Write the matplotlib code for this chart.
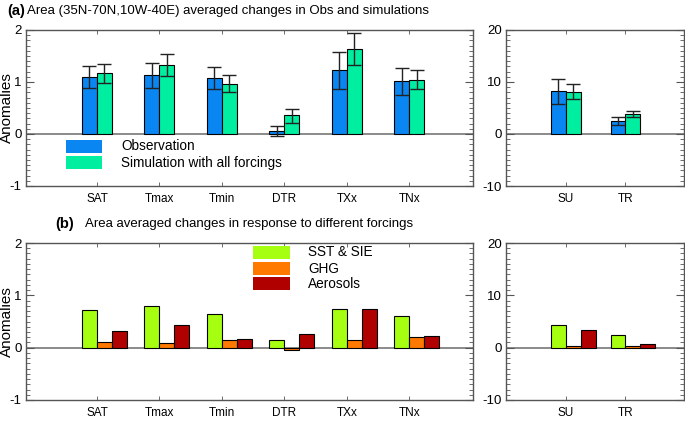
import matplotlib
matplotlib.use("Agg")
import matplotlib.pyplot as plt
from matplotlib.patches import Rectangle
from matplotlib.ticker import MultipleLocator
import numpy as np

plt.rcParams['font.family'] = ['Liberation Sans', 'DejaVu Sans']
plt.rcParams['axes.unicode_minus'] = False

# ---- data ----
cats_left = ["SAT", "Tmax", "Tmin", "DTR", "TXx", "TNx"]
cats_right = ["SU", "TR"]

obs_left = [1.10, 1.13, 1.07, 0.06, 1.23, 1.01]
obs_left_lo = [0.88, 0.88, 0.87, -0.04, 0.87, 0.75]
obs_left_hi = [1.31, 1.37, 1.28, 0.15, 1.58, 1.26]
sim_left = [1.17, 1.33, 0.97, 0.36, 1.63, 1.04]
sim_left_lo = [0.99, 1.12, 0.80, 0.22, 1.33, 0.87]
sim_left_hi = [1.35, 1.54, 1.13, 0.48, 1.95, 1.24]

obs_right = [8.27, 2.56]
obs_right_lo = [5.8, 1.7]
obs_right_hi = [10.6, 3.3]
sim_right = [8.14, 3.85]
sim_right_lo = [6.7, 3.3]
sim_right_hi = [9.7, 4.36]

sst_left = [0.72, 0.80, 0.64, 0.14, 0.73, 0.61]
ghg_left = [0.11, 0.09, 0.14, -0.05, 0.155, 0.21]
aer_left = [0.32, 0.43, 0.17, 0.26, 0.74, 0.23]
sst_right = [4.4, 2.45]
ghg_right = [0.4, 0.4]
aer_right = [3.35, 0.7]

# ---- style ----
C_OBS = "#0a86f2"
C_SIM = "#00eea0"
C_SST = "#a6ff10"
C_GHG = "#ff7800"
C_AER = "#b00000"
SPINE = "#555555"

W, H = 685, 426
fig = plt.figure(figsize=(W / 100, H / 100), dpi=100)

def px_axes(x0, x1, y0, y1):
    return fig.add_axes([x0 / W, 1 - y1 / H, (x1 - x0) / W, (y1 - y0) / H])

ax_a = px_axes(26, 473, 30, 186)
ax_ar = px_axes(506, 684, 30, 186)
ax_b = px_axes(26, 473, 243, 400)
ax_br = px_axes(506, 684, 243, 400)

def style(ax, cats, ylim, major, minor, xlim, ylabel=False):
    x = np.arange(1, len(cats) + 1)
    ax.set_xlim(*xlim)
    ax.set_ylim(*ylim)
    ax.set_xticks(x)
    ax.set_xticklabels(cats, fontsize=8.5)
    ax.yaxis.set_major_locator(MultipleLocator(major))
    ax.yaxis.set_minor_locator(MultipleLocator(minor))
    ax.tick_params(axis='y', which='major', direction='in', length=6, width=0.8,
                   left=True, right=True, labelsize=9.5, color=SPINE, pad=3)
    ax.tick_params(axis='y', which='minor', direction='in', length=3, width=0.6,
                   left=True, right=True, color=SPINE)
    ax.tick_params(axis='x', which='major', direction='in', length=3, width=0.6,
                   top=True, bottom=True, color=SPINE, pad=5)
    for s in ax.spines.values():
        s.set_color(SPINE)
        s.set_linewidth(1.0)
    ax.axhline(0, color="#777777", lw=1.2, zorder=1)
    if ylabel:
        ax.set_ylabel("Anomalies", fontsize=11)
        ax.yaxis.set_label_coords(-0.026, 0.5)

def obs_sim(ax, obs, lo_o, hi_o, sim, lo_s, hi_s, w):
    x = np.arange(1, len(obs) + 1)
    ax.bar(x - w, obs, width=w, align='edge', color=C_OBS, edgecolor='black', linewidth=0.8, zorder=2)
    ax.bar(x, sim, width=w, align='edge', color=C_SIM, edgecolor='black', linewidth=0.8, zorder=2)
    for xs, v, lo, hi in ((x - w / 2, obs, lo_o, hi_o), (x + w / 2, sim, lo_s, hi_s)):
        v = np.array(v); lo = np.array(lo); hi = np.array(hi)
        ax.errorbar(xs, v, yerr=[v - lo, hi - v], fmt='none', ecolor='#222222',
                    elinewidth=1.0, capsize=5.3, capthick=1.0, zorder=3)

def forcings(ax, a, b, c, w):
    x = np.arange(1, len(a) + 1)
    ax.bar(x - w, a, width=w, align='edge', color=C_SST, edgecolor='black', linewidth=0.8, zorder=2)
    ax.bar(x, b, width=w, align='edge', color=C_GHG, edgecolor='black', linewidth=0.8, zorder=2)
    ax.bar(x + w, c, width=w, align='edge', color=C_AER, edgecolor='black', linewidth=0.8, zorder=2)

xl_left = (-0.136, 7.02)
xl_right = (0.0, 2.98)

obs_sim(ax_a, obs_left, obs_left_lo, obs_left_hi, sim_left, sim_left_lo, sim_left_hi, 0.24)
obs_sim(ax_ar, obs_right, obs_right_lo, obs_right_hi, sim_right, sim_right_lo, sim_right_hi, 0.25)
forcings(ax_b, sst_left, ghg_left, aer_left, 0.24)
forcings(ax_br, sst_right, ghg_right, aer_right, 0.25)

style(ax_a, cats_left, (-1, 2), 1, 0.1, xl_left, ylabel=True)
style(ax_ar, cats_right, (-10, 20), 10, 1, xl_right)
style(ax_b, cats_left, (-1, 2), 1, 0.1, xl_left, ylabel=True)
style(ax_br, cats_right, (-10, 20), 10, 1, xl_right)

# legends
def legend_box(ax, x0, x1, rows, tx, labels, colors, fs):
    for (y0, y1), lab, col in zip(rows, labels, colors):
        ax.add_patch(Rectangle((x0, y0), x1 - x0, y1 - y0, transform=ax.transAxes,
                               facecolor=col, edgecolor='none', zorder=4, clip_on=False))
        ax.text(tx, (y0 + y1) / 2, lab, transform=ax.transAxes, fontsize=fs,
                va='center', ha='left', zorder=4)

legend_box(ax_a, 0.0895, 0.170, [(0.2115, 0.295), (0.109, 0.192)], 0.2125,
           ["Observation", "Simulation with all forcings"], [C_OBS, C_SIM], 9.8)
legend_box(ax_b, 0.508, 0.591, [(0.898, 0.981), (0.796, 0.879), (0.70, 0.783)], 0.631,
           ["SST & SIE", "GHG", "Aerosols"], [C_SST, C_GHG, C_AER], 9.8)

# titles
fig.text(7 / W, 1 - 11 / H, "(a)", fontsize=10.5, fontweight='bold', va='center', ha='left')
fig.text(27 / W, 1 - 11 / H, "Area (35N-70N,10W-40E) averaged changes in Obs and simulations",
         fontsize=9.5, va='center', ha='left')
fig.text(55 / W, 1 - 224 / H, "(b)", fontsize=10.5, fontweight='bold', va='center', ha='left')
fig.text(85 / W, 1 - 224 / H, "Area averaged changes in response to different forcings",
         fontsize=9.5, va='center', ha='left')

fig.savefig("out.png", dpi=100)
